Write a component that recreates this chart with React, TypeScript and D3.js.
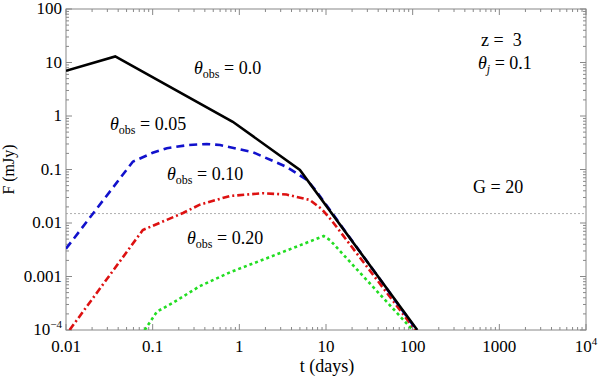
import React from 'react';
import * as d3 from 'd3';

// light curves: [t (days), F (mJy)]
const onAxis = [[0.01, 7.0], [0.037, 13], [0.84, 0.78], [5.0, 0.098], [113, 1e-4]];
const obs005 = [[0.01, 0.0033], [0.059, 0.14], [0.1, 0.205], [0.146, 0.25], [0.25, 0.285], [0.42, 0.3], [0.6, 0.287], [1.44, 0.21], [3.54, 0.111], [6.0, 0.064], [7.5, 0.042], [111, 1e-4]];
const obs010 = [[0.011, 1e-4], [0.077, 0.0074], [0.224, 0.0154], [0.35, 0.022], [0.78, 0.032], [1.87, 0.036], [3.5, 0.034], [6.5, 0.027], [9, 0.018], [11.5, 0.0114], [107, 1e-4]];
const obs020 = [[0.081, 1e-4], [0.112, 2.2e-4], [0.17, 3.2e-4], [0.35, 6.6e-4], [0.78, 0.0012], [2.08, 0.0022], [9.4, 0.0057], [11.1, 0.0048], [100, 1e-4]];
const threshold = 0.015;

const xTicks = [0.01, 0.1, 1, 10, 100, 1000, 10000];
const xTickLabels = ['0.01', '0.1', '1', '10', '100', '1000', '10^4'];
const yTicks = [1e-4, 0.001, 0.01, 0.1, 1, 10, 100];
const yTickLabels = ['10^-4', '0.001', '0.01', '0.1', '1', '10', '100'];

const W = 600, H = 379;
const left = 66, right = 586, top = 9, bottom = 330;
const fontStyle = { fontFamily: "'Liberation Serif', 'Times New Roman', 'DejaVu Serif', serif" };

function Label({ text }: { text: string }) {
  // "10^4" style labels get a superscript
  const m = text.split('^');
  if (m.length === 1) return <>{text}</>;
  return <>{m[0]}<tspan dy={-7} fontSize={11}>{m[1].replace('-', '\u2212')}</tspan></>;
}

function Theta({ x, y, sub, value }: { x: number; y: number; sub: string; value: string }) {
  return (
    <text x={x} y={y} style={fontStyle} fontSize={18} fill="#000">
      <tspan fontStyle="italic">θ</tspan>
      <tspan dy={4} fontSize={12} fontStyle={sub === 'j' ? 'italic' : 'normal'}>{sub}</tspan>
      <tspan dy={-4}>{' = ' + value}</tspan>
    </text>
  );
}

export default function App() {
  const x = d3.scaleLog().domain([0.01, 10000]).range([left, right]);
  const y = d3.scaleLog().domain([1e-4, 100]).range([bottom, top]);
  const line = d3.line<number[]>().x(d => x(d[0])).y(d => y(d[1]));

  const minorX: number[] = [];
  for (let e = -2; e < 4; e++) for (let k = 2; k <= 9; k++) minorX.push(k * Math.pow(10, e));
  const minorY: number[] = [];
  for (let e = -4; e < 2; e++) for (let k = 2; k <= 9; k++) minorY.push(k * Math.pow(10, e));

  const axisColor = '#888';
  const series = [
    { data: obs020, color: '#22dd22', dash: '3,3' },
    { data: obs010, color: '#dd1111', dash: '7,3,2,3' },
    { data: obs005, color: '#1111cc', dash: '8,5' },
    { data: onAxis, color: '#000', dash: null },
  ];

  return (
    <svg width={W} height={H} style={{ position: 'absolute', left: 0, top: 0, background: '#fff' }}>
      <defs>
        <clipPath id="plot"><rect x={left} y={top} width={right - left} height={bottom - top} /></clipPath>
      </defs>
      {/* frame */}
      <rect x={left} y={top} width={right - left} height={bottom - top} fill="none" stroke={axisColor} strokeWidth={1} />
      {/* ticks on all four sides, pointing inwards */}
      {xTicks.map(t => (
        <g key={'xt' + t} stroke={axisColor}>
          <line x1={x(t)} x2={x(t)} y1={bottom} y2={bottom - 6} />
          <line x1={x(t)} x2={x(t)} y1={top} y2={top + 6} />
        </g>
      ))}
      {minorX.map(t => (
        <g key={'xm' + t} stroke={axisColor}>
          <line x1={x(t)} x2={x(t)} y1={bottom} y2={bottom - 3} />
          <line x1={x(t)} x2={x(t)} y1={top} y2={top + 3} />
        </g>
      ))}
      {yTicks.map(t => (
        <g key={'yt' + t} stroke={axisColor}>
          <line x1={left} x2={left + 6} y1={y(t)} y2={y(t)} />
          <line x1={right} x2={right - 6} y1={y(t)} y2={y(t)} />
        </g>
      ))}
      {minorY.map(t => (
        <g key={'ym' + t} stroke={axisColor}>
          <line x1={left} x2={left + 3} y1={y(t)} y2={y(t)} />
          <line x1={right} x2={right - 3} y1={y(t)} y2={y(t)} />
        </g>
      ))}
      {/* tick labels */}
      {xTicks.map((t, i) => (
        <text key={'xl' + t} x={x(t)} y={bottom + 22} textAnchor="middle" style={fontStyle} fontSize={17}>
          <Label text={xTickLabels[i]} />
        </text>
      ))}
      {yTicks.map((t, i) => (
        <text key={'yl' + t} x={left - 4} y={y(t) + 5} textAnchor="end" style={fontStyle} fontSize={17}>
          <Label text={yTickLabels[i]} />
        </text>
      ))}
      {/* threshold */}
      <line x1={left} x2={right} y1={y(threshold)} y2={y(threshold)} stroke="#999" strokeWidth={0.8} strokeDasharray="2,2" />
      {/* curves */}
      <g clipPath="url(#plot)">
        {series.map((s, i) => (
          <path key={i} d={line(s.data) || ''} fill="none" stroke={s.color} strokeWidth={2.6}
            strokeDasharray={s.dash || undefined} />
        ))}
      </g>
      {/* annotations */}
      <Theta x={194} y={74} sub="obs" value="0.0" />
      <Theta x={110} y={130} sub="obs" value="0.05" />
      <Theta x={167} y={180} sub="obs" value="0.10" />
      <Theta x={187} y={244} sub="obs" value="0.20" />
      <text x={481} y={46} style={fontStyle} fontSize={18}>{'z =\u00a0 3'}</text>
      <Theta x={478} y={69} sub="j" value="0.1" />
      <text x={473} y={193} style={fontStyle} fontSize={18}>G = 20</text>
      <text x={327} y={372} textAnchor="middle" style={fontStyle} fontSize={18}>t (days)</text>
      <text transform={`translate(14, ${(top + bottom) / 2}) rotate(-90)`} textAnchor="middle" style={fontStyle} fontSize={16}>F (mJy)</text>
    </svg>
  );
}
